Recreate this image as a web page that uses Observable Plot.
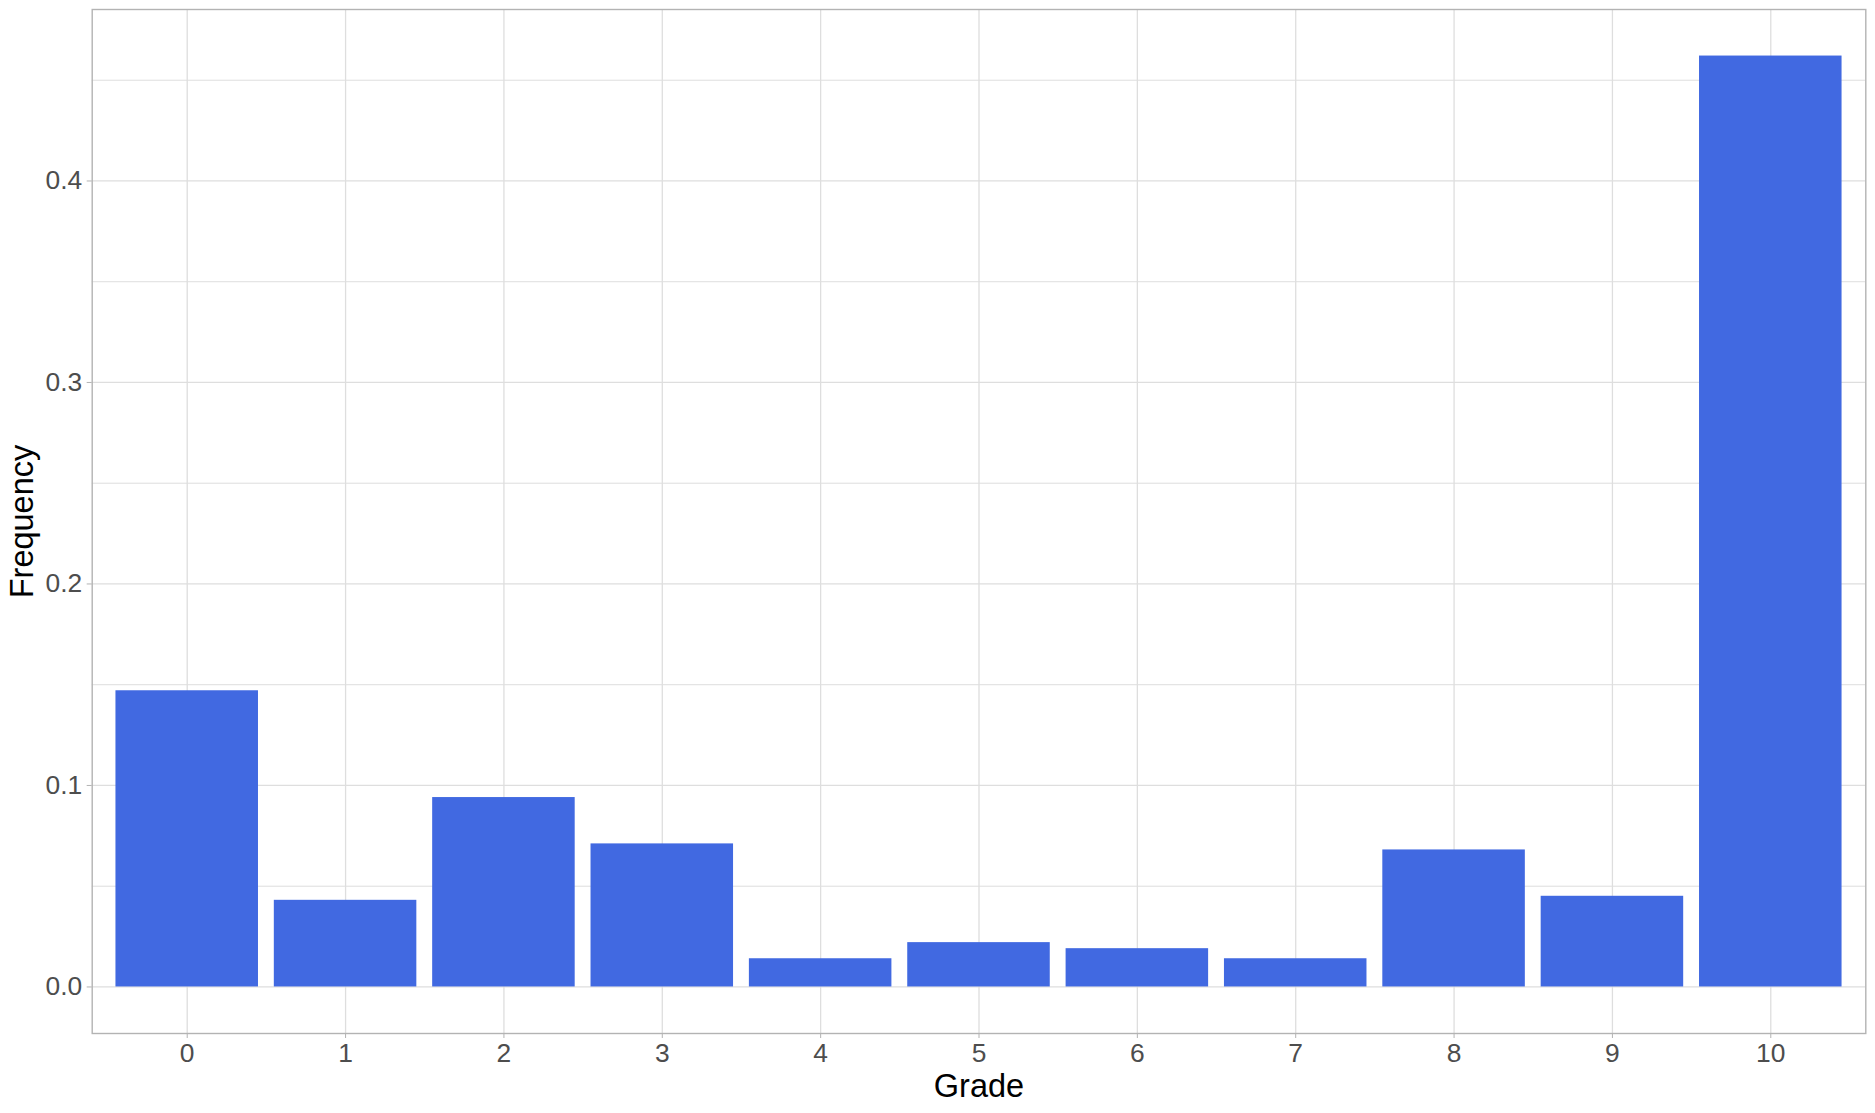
<!DOCTYPE html>
<html>
<head>
<meta charset="utf-8">
<script src="https://cdn.jsdelivr.net/npm/d3@7"></script>
<script src="https://cdn.jsdelivr.net/npm/@observablehq/plot@0.6"></script>
<style>
  html, body { margin: 0; padding: 0; background: #ffffff; }
  #chart svg { display: block; }
</style>
</head>
<body>
<div id="chart"></div>
<script>
// Data
const grades = [0, 1, 2, 3, 4, 5, 6, 7, 8, 9, 10];
const frequency = [0.147, 0.043, 0.094, 0.071, 0.014, 0.022, 0.019, 0.014, 0.068, 0.045, 0.462];
const yMajorTicks = [0, 0.1, 0.2, 0.3, 0.4];
const yMinorTicks = [0.05, 0.15, 0.25, 0.35, 0.45];
const xTitle = "Grade";
const yTitle = "Frequency";

const rows = grades.map((g, i) => ({grade: g, freq: frequency[i]}));
const yMax = d3.max(frequency);
const yPad = yMax * 0.05;

const font = "'Liberation Sans', Arial, 'DejaVu Sans', sans-serif";

const chart = Plot.plot({
  width: 1875,
  height: 1113,
  marginLeft: 91.7,
  marginRight: 9.7,
  marginTop: 9,
  marginBottom: 80,
  style: {fontFamily: font, background: "#ffffff"},
  x: {type: "band", domain: grades, paddingInner: 0.1, paddingOuter: 0.15, round: false, label: null},
  y: {domain: [-yPad, yMax + yPad], label: null},
  marks: [
    Plot.gridY(yMinorTicks, {stroke: "#dedede", strokeOpacity: 1, strokeWidth: 1}),
    Plot.gridY(yMajorTicks, {stroke: "#dedede", strokeOpacity: 1, strokeWidth: 1.3}),
    Plot.gridX(grades, {stroke: "#dedede", strokeOpacity: 1, strokeWidth: 1.3}),
    Plot.barY(rows, {x: "grade", y: "freq", fill: "#4169E1"}),
    Plot.axisX(grades, {tickSize: 5, tickPadding: 5, stroke: "#b3b3b3", fill: "#4d4d4d", fontSize: 26.4, label: null}),
    Plot.axisY(yMajorTicks, {tickSize: 5, tickPadding: 5, tickFormat: d3.format(".1f"), stroke: "#b3b3b3", fill: "#4d4d4d", fontSize: 26.4, label: null}),
    Plot.frame({stroke: "#b3b3b3", strokeWidth: 1.4}),
    Plot.text([xTitle], {frameAnchor: "bottom", dy: 63, lineAnchor: "bottom", fontSize: 32.5, fill: "#000000", text: d => d}),
    Plot.text([yTitle], {frameAnchor: "left", dx: -59, rotate: -90, textAnchor: "middle", lineAnchor: "bottom", fontSize: 32.5, fill: "#000000", text: d => d})
  ]
});

document.getElementById("chart").appendChild(chart);
</script>
</body>
</html>
